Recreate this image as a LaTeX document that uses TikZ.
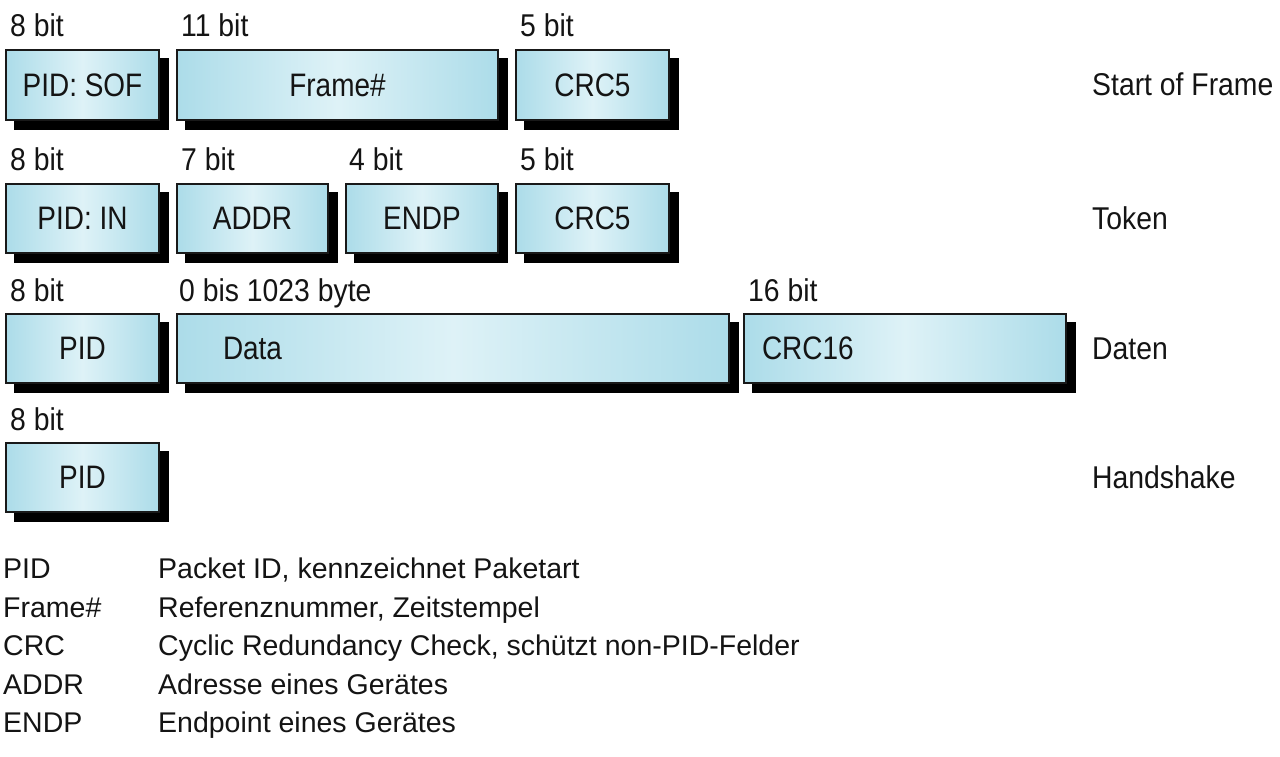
\documentclass[tikz,border=0pt]{standalone}
\usepackage{fontspec}
\setmainfont{Liberation Sans}
\newfontfamily\boxfont[FakeStretch=0.86]{Liberation Sans}
\newfontfamily\lblfont[FakeStretch=0.9]{Liberation Sans}
\usetikzlibrary{backgrounds}
\pgfdeclarelayer{paper}
\pgfsetlayers{paper,background,main}
\definecolor{edgeblue}{RGB}{172,220,233}
\definecolor{midblue}{RGB}{222,242,247}
\definecolor{frame}{RGB}{25,25,25}
\tikzset{
  pbox/.style={draw=frame, line width=2pt, rectangle, inner sep=0pt, anchor=north west,
    left color=edgeblue, right color=edgeblue, middle color=midblue,
    font=\boxfont\fontsize{32.5}{34}\selectfont, text=black!92},
  bitlbl/.style={anchor=base west, inner sep=0pt, font=\lblfont\fontsize{31.5}{33}\selectfont, text=black!92},
  rowlbl/.style={anchor=base west, inner sep=0pt, font=\lblfont\fontsize{31.5}{33}\selectfont, text=black!92},
  leg/.style={anchor=base west, inner sep=0pt, font=\fontsize{28.5}{30}\selectfont, text=black!92},
  shadowfill/.style={fill=black}
}
\begin{document}
\begin{tikzpicture}[x=1pt,y=-1pt]
\useasboundingbox (0,0) rectangle (1280,757);
\begin{pgfonlayer}{paper}
\fill[white] (0,0) rectangle (1280,757);
\end{pgfonlayer}

% Row 1: Start of Frame
\node[bitlbl] (l11) at (10,37) {8 bit};
\node[bitlbl] (l12) at (181,37) {11 bit};
\node[bitlbl] (l13) at (520,37) {5 bit};
\node[pbox, minimum width=153pt, minimum height=70pt] (b11) at (5,49) {PID: SOF};
\node[pbox, minimum width=321pt, minimum height=70pt] (b12) at (176,49) {Frame\#\hspace{22pt}};
\node[pbox, minimum width=153pt, minimum height=70pt] (b13) at (515,49) {CRC5};
\node[rowlbl] (r1) at (1092,95.5) {Start of Frame};

% Row 2: Token
\node[bitlbl] (l21) at (10,171) {8 bit};
\node[bitlbl] (l22) at (181,171) {7 bit};
\node[bitlbl] (l23) at (349,171) {4 bit};
\node[bitlbl] (l24) at (520,171) {5 bit};
\node[pbox, minimum width=153pt, minimum height=69pt] (b21) at (5,183) {PID: IN};
\node[pbox, minimum width=151pt, minimum height=69pt] (b22) at (176,183) {ADDR};
\node[pbox, minimum width=152pt, minimum height=69pt] (b23) at (345,183) {ENDP};
\node[pbox, minimum width=153pt, minimum height=69pt] (b24) at (515,183) {CRC5};
\node[rowlbl] (r2) at (1092,229) {Token};

% Row 3: Daten
\node[bitlbl] (l31) at (10,301) {8 bit};
\node[bitlbl] (l32) at (179,301) {0 bis 1023 byte};
\node[bitlbl] (l33) at (748,301) {16 bit};
\node[pbox, minimum width=153pt, minimum height=69pt] (b31) at (5,313) {PID};
\node[pbox, minimum width=552pt, minimum height=69pt] (b32) at (176,313) {\makebox[552pt][l]{\hspace{46pt}Data}};
\node[pbox, minimum width=322pt, minimum height=69pt] (b33) at (743,313) {\makebox[322pt][l]{\hspace{18pt}CRC16}};
\node[rowlbl] (r3) at (1092,359) {Daten};

% Row 4: Handshake
\node[bitlbl] (l41) at (10,430) {8 bit};
\node[pbox, minimum width=153pt, minimum height=69pt] (b41) at (5,442) {PID};
\node[rowlbl] (r4) at (1092,488) {Handshake};

% shadows
\begin{scope}[on background layer]
\foreach \b in {b11,b12,b13,b21,b22,b23,b24,b31,b32,b33,b41}{
  \fill[shadowfill] ([shift={(9,9)}]\b.north west) rectangle ([shift={(9,9)}]\b.south east);
}
\end{scope}

% Legend
\node[leg] (k1) at (3,578) {PID};
\node[leg] (k2) at (3,617) {Frame\#};
\node[leg] (k3) at (3,655) {CRC};
\node[leg] (k4) at (3,694) {ADDR};
\node[leg] (k5) at (3,732) {ENDP};
\node[leg] (d1) at (158,578) {Packet ID, kennzeichnet Paketart};
\node[leg] (d2) at (158,617) {Referenznummer, Zeitstempel};
\node[leg] (d3) at (158,655) {Cyclic Redundancy Check, schützt non-PID-Felder};
\node[leg] (d4) at (158,694) {Adresse eines Gerätes};
\node[leg] (d5) at (158,732) {Endpoint eines Gerätes};
\end{tikzpicture}
\end{document}
